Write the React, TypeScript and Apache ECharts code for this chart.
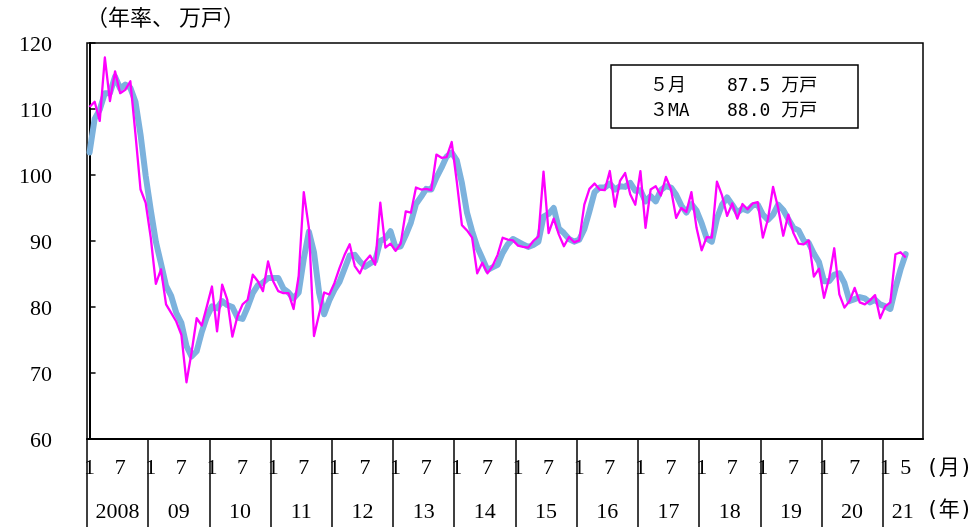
import React, { useEffect, useRef } from "react";
import * as echarts from "echarts";

// Monthly housing starts, seasonally adjusted annual rate (10k units), Jan 2008 - May 2021
const MONTHLY: number[] = [
  110.3, 111.1, 108.2, 117.8, 111.2, 115.7, 112.4, 112.9, 114.2, 106.2, 97.8, 95.8,
  90.5, 83.5, 85.7, 80.4, 79.1, 77.8, 75.8, 68.6, 73.1, 78.3, 77.2, 80.1,
  83.1, 76.3, 83.4, 81.1, 75.5, 78.6, 80.4, 81.1, 84.9, 83.9, 82.4, 86.9,
  83.9, 82.4, 82.1, 82.1, 79.7, 84.7, 97.4, 92.0, 75.6, 78.9, 82.2, 81.9,
  83.6, 85.9, 87.9, 89.5, 86.2, 85.1, 86.9, 87.8, 86.4, 95.8, 89.0, 89.6,
  88.5, 89.6, 94.5, 94.3, 98.1, 97.8, 97.9, 97.7, 103.1, 102.6, 102.7, 105.0,
  99.0, 92.4, 91.6, 90.5, 85.1, 86.7, 85.1, 86.2, 87.9, 90.5, 90.2, 90.1,
  89.3, 89.1, 89.0, 90.0, 90.7, 100.5, 91.2, 93.4, 91.0, 89.2, 90.6, 89.8,
  90.1, 95.5, 97.9, 98.7, 97.8, 97.7, 100.6, 95.2, 99.1, 100.3, 97.1, 95.5,
  100.6, 92.0, 97.8, 98.3, 96.9, 99.7, 97.8, 93.5, 95.0, 94.4, 97.4, 92.0,
  88.6, 90.6, 90.5, 99.0, 96.9, 93.8, 95.7, 93.4, 95.6, 94.8, 95.7, 95.9,
  90.5, 93.3, 98.2, 95.0, 90.8, 94.0, 91.2, 89.6, 89.5, 90.1, 84.6, 85.8,
  81.4, 84.4, 88.9, 81.9, 79.9, 80.9, 82.9, 80.7, 80.4, 81.0, 81.8, 78.3,
  80.1, 80.7, 88.0, 88.3, 87.5,
];

// 3-month moving average
const MA3: number[] = [
  103.4, 108.5, 109.9, 112.4, 112.4, 114.9, 113.1, 113.7, 113.2, 111.1, 106.1, 99.9,
  94.7, 89.9, 86.6, 83.2, 81.7, 79.1, 77.6, 74.1, 72.5, 73.3, 76.2, 78.5,
  80.1, 79.8, 80.9, 80.3, 80.0, 78.4, 78.2, 80.0, 82.1, 83.3, 83.7, 84.4,
  84.4, 84.4, 82.8, 82.2, 81.3, 82.2, 87.3, 91.4, 88.3, 82.2, 78.9, 81.0,
  82.6, 83.8, 85.8, 87.8, 87.9, 86.9, 86.1, 86.6, 87.0, 90.0, 90.4, 91.5,
  89.0, 89.2, 90.9, 92.8, 95.6, 96.7, 97.9, 97.8, 99.6, 101.1, 102.8, 103.4,
  102.2, 98.8, 94.3, 91.5, 89.1, 87.4, 85.6, 86.0, 86.4, 88.2, 89.5, 90.3,
  89.9, 89.5, 89.1, 89.4, 89.9, 93.7, 94.1, 95.0, 91.9, 91.2, 90.3, 89.9,
  90.2, 91.8, 94.5, 97.4, 98.1, 98.1, 98.7, 97.8, 98.3, 98.2, 98.8, 97.6,
  97.7, 96.0, 96.8, 96.0, 97.7, 98.3, 98.1, 97.0, 95.4, 94.3, 95.6, 94.6,
  92.7, 90.4, 89.9, 93.4, 95.5, 96.6, 95.5, 94.3, 94.9, 94.6, 95.4, 95.5,
  94.0, 93.2, 94.0, 95.5, 94.7, 93.3, 92.0, 91.6, 90.1, 89.7, 88.1, 86.8,
  83.9, 83.9, 84.9, 85.1, 83.6, 80.9, 81.2, 81.5, 81.3, 80.7, 81.1, 80.4,
  80.1, 79.7, 82.9, 85.7, 88.0,
];

const YEAR_LABELS: string[] = ["2008", "09", "10", "11", "12", "13", "14", "15", "16", "17", "18", "19", "20", "21"];
const MONTH_LABEL_JAN = "1";
const MONTH_LABEL_JUL = "7";
const MONTH_LABEL_LAST = "5";
const LEGEND_NAMES: string[] = ["５月", "３MA"];
const LEGEND_VALUES: string[] = ["87.5 万戸", "88.0 万戸"];

const MAGENTA = "#fe00fe";
const BLUE = "#7cb2dd";
const SERIF = "'Liberation Serif', 'Times New Roman', serif";
const CJK = "'Noto Sans CJK JP', sans-serif";
const MONO = "'DejaVu Sans Mono', 'Noto Sans CJK JP', monospace";

export default function App() {
  const ref = useRef<HTMLDivElement>(null);

  useEffect(() => {
    if (!ref.current) return;
    const chart = echarts.init(ref.current, null, { renderer: "svg" });
    const lastIdx = MONTHLY.length - 1;
    const xMin = -0.5;
    const xMax = 163.4;

    const sepValues = YEAR_LABELS.map((_, k) => k * 12 - 0.5);
    const monthLabelValues: number[] = [];
    YEAR_LABELS.forEach((_, k) => {
      if (k * 12 <= lastIdx) monthLabelValues.push(k * 12);
      if (k * 12 + 6 <= lastIdx) monthLabelValues.push(k * 12 + 6);
    });
    if (monthLabelValues.indexOf(lastIdx) < 0) monthLabelValues.push(lastIdx);
    const yearCenters = YEAR_LABELS.map((_, k) => {
      const start = k * 12 - 0.5;
      const end = Math.min(start + 12, xMax);
      return (start + end) / 2;
    });

    const axisFont = { fontFamily: SERIF, fontSize: 22, color: "#000" };

    chart.setOption({
      animation: false,
      backgroundColor: "#fff",
      grid: {
        left: 87,
        top: 43,
        right: 55,
        bottom: 88,
        show: true,
        borderColor: "#000",
        borderWidth: 1.5,
        backgroundColor: "transparent",
      },
      xAxis: [
        {
          type: "value",
          position: "bottom",
          min: xMin,
          max: xMax,
          axisLine: { show: true, lineStyle: { color: "#000", width: 2 } },
          axisTick: {
            show: true,
            inside: false,
            length: 90,
            customValues: sepValues,
            lineStyle: { color: "#000", width: 1.5 },
          },
          axisLabel: {
            show: true,
            customValues: monthLabelValues,
            margin: 16,
            ...axisFont,
            formatter: (v: number) =>
              v === lastIdx ? MONTH_LABEL_LAST : v % 12 === 0 ? MONTH_LABEL_JAN : MONTH_LABEL_JUL,
          },
          splitLine: { show: false },
        },
        {
          type: "value",
          position: "bottom",
          min: xMin,
          max: xMax,
          axisLine: { show: false },
          axisTick: { show: false },
          axisLabel: {
            show: true,
            customValues: yearCenters,
            margin: 60,
            ...axisFont,
            formatter: (v: number) => {
              let best = 0;
              yearCenters.forEach((c, k) => {
                if (Math.abs(c - v) < Math.abs(yearCenters[best] - v)) best = k;
              });
              return YEAR_LABELS[best];
            },
          },
          splitLine: { show: false },
        },
      ],
      yAxis: {
        type: "value",
        min: 60,
        max: 120,
        interval: 10,
        axisLine: { show: true, lineStyle: { color: "#000", width: 2 } },
        axisTick: { show: true, inside: true, length: 6, lineStyle: { color: "#000", width: 1.5 } },
        axisLabel: { margin: 35, ...axisFont },
        splitLine: { show: false },
      },
      series: [
        {
          name: "3MA",
          type: "line",
          xAxisIndex: 0,
          data: MA3.map((v, i) => [i, v]),
          showSymbol: false,
          silent: true,
          z: 2,
          lineStyle: { color: BLUE, width: 6, cap: "round", join: "round" },
        },
        {
          name: "月次",
          type: "line",
          xAxisIndex: 0,
          data: MONTHLY.map((v, i) => [i, v]),
          showSymbol: false,
          silent: true,
          z: 3,
          lineStyle: { color: MAGENTA, width: 2.3, join: "round" },
        },
      ],
      graphic: [
        {
          type: "text",
          left: 86,
          top: 4,
          style: { text: "（年率、 万戸）", font: `22px ${CJK}`, fill: "#000" },
        },
        {
          type: "text",
          left: 926,
          top: 456,
          style: { text: "(月)", font: `21px ${MONO}`, fill: "#000" },
        },
        {
          type: "text",
          left: 926,
          top: 498,
          style: { text: "(年)", font: `21px ${MONO}`, fill: "#000" },
        },
        {
          type: "rect",
          shape: { x: 611, y: 65, width: 247, height: 63 },
          style: { fill: "#fff", stroke: "#000", lineWidth: 1.5 },
          z: 10,
        },
        ...LEGEND_NAMES.map((t, k) => ({
          type: "text",
          x: 650,
          y: 84 + k * 25,
          z: 11,
          style: { text: t, font: `18px ${MONO}`, fill: "#000", verticalAlign: "middle" },
        })),
        ...LEGEND_VALUES.map((t, k) => ({
          type: "text",
          x: 727,
          y: 84 + k * 25,
          z: 11,
          style: { text: t, font: `18px ${MONO}`, fill: "#000", verticalAlign: "middle" },
        })),
      ],
    });

    return () => chart.dispose();
  }, []);

  return (
    <>
      <style>{`svg path[stroke="${MAGENTA}"]{mix-blend-mode:multiply}`}</style>
      <div
        ref={ref}
        style={{ position: "fixed", left: 0, top: 0, width: 978, height: 527, background: "#fff" }}
      />
    </>
  );
}
